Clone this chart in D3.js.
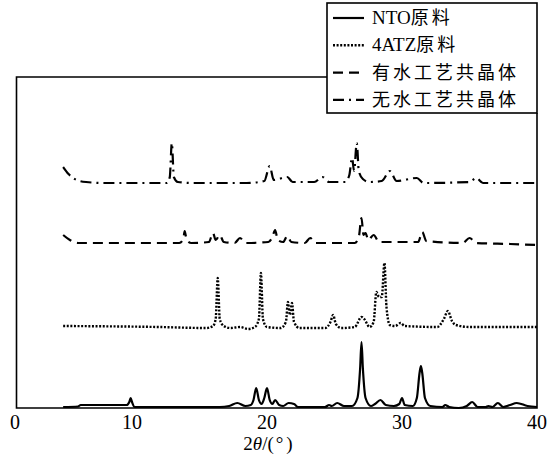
<html>
  <head>
    <meta charset="utf-8">
    <title>XRD</title>
  </head>
<style>
  body { margin:0; background:#fff; }
  text { font-family:"Liberation Serif","Times New Roman",serif; fill:#000; }
  .cjk { font-family:"Noto Sans CJK SC",serif; }
</style>
  <body>
    <script src="https://cdn.jsdelivr.net/npm/d3@7"></script>
    <script>

    var width = 549, height = 457;

    // 2theta / intensity pairs (intensity above each baseline)
    var ntoData = [[4.9,1],[6.0,1.5],[6.2,3],[9.6,3],[9.8,6],[9.9,10],[10.0,6],[10.2,1],[16.5,1],[17.2,2],[17.8,5],[18.4,2],
      [18.8,3],[19.0,8],[19.2,20],[19.4,8],[19.6,4],[19.8,10],[20.0,20],[20.2,8],[20.4,4],[20.6,8],[20.9,3],[21.2,2],[21.6,5],
      [22.0,4],[22.3,1],[24.3,1],[24.6,3],[24.8,2],[25.2,5],[25.7,2],[26.3,2],[26.7,10],[26.9,40],[27.0,66],[27.1,40],[27.3,10],
      [27.7,2],[28.0,4],[28.4,8],[28.8,3],[29.4,2],[29.8,4],[30.0,10],[30.2,3],[30.8,2],[31.1,10],[31.3,35],[31.4,42],[31.5,35],
      [31.7,10],[32.1,2],[33.0,1],[33.2,3],[33.5,1],[34.2,0],[34.8,2],[35.2,6],[35.6,1],[36.2,1],[36.4,2],[36.7,1],[37.1,5],
      [37.5,1],[38.0,3],[38.5,5],[39.3,2],[40,1]];

    var atzData = [[4.9,1],[12,0],[15.5,-1],[16.0,1],[16.2,8],[16.35,49],[16.5,8],[16.8,1],[17.3,-1],[18.0,0],[18.6,-2],[19.1,0],
      [19.4,8],[19.55,54],[19.7,8],[20.0,0],[21.0,-1],[21.4,5],[21.55,25],[21.7,12],[21.85,24],[22.0,5],[22.4,-1],[24.3,-1],
      [24.7,5],[24.9,12],[25.1,3],[25.5,-1],[26.5,0],[27.0,10],[27.2,8],[27.6,0],[27.9,5],[28.1,35],[28.3,30],[28.5,30],
      [28.7,64],[28.85,20],[29.1,2],[29.5,1],[29.9,4],[30.2,1],[32.6,0],[33.1,8],[33.4,16],[33.7,6],[34.0,2],[35,0],[40,0]];

    var wetData = [[4.9,8],[5.4,3],[6.0,0],[13.5,0],[13.8,4],[13.9,12],[14.05,3],[14.4,0],[15.7,1],[16.0,10],[16.2,3],[16.5,8],
      [16.8,1],[17.6,0],[18.0,5],[18.4,0],[20.1,1],[20.4,6],[20.6,13],[20.8,3],[21.2,1],[21.5,7],[21.8,1],[22.8,0],[23.2,5],
      [23.6,0],[26.5,0],[26.8,6],[27.0,25],[27.15,8],[27.3,10],[27.5,3],[27.9,8],[28.3,1],[31.2,1],[31.5,11],[31.8,2],
      [34.5,0],[35.0,5],[35.5,0],[38,-1],[40,-2]];

    var dryData = [[4.9,16],[5.3,9],[5.9,3],[6.6,1],[8,0],[12.6,0],[12.8,6],[12.95,40],[13.1,6],[13.4,1],[14.5,0],[18.5,0],
      [19.8,2],[20.2,17],[20.5,3],[21.5,6],[21.9,1],[23.5,1],[24.1,6],[24.6,1],[25.8,1],[26.1,8],[26.3,25],[26.45,12],
      [26.65,40],[26.8,12],[27.1,4],[27.6,1],[28.5,2],[29.1,12],[29.6,2],[31.1,5],[31.6,0],[35.0,1],[35.5,5],[36,0],[40,0]];

    var seriesLatin = ["NTO","4ATZ","",""];
    var seriesCjk = ["原料","原料","有水工艺共晶体","无水工艺共晶体"];
    var seriesOffsets = [0, 81, 165, 225];
    var xTicks = [0,10,20,30,40];

    var allSeries = [ntoData, atzData, wetData, dryData];
    var dashes = [null, "2,1.6", "10,6", "11,5,2,5"];
    var widths = [2.2, 2.4, 2.2, 2.2];

    var svg = d3.select("body").append("svg")
        .attr("width", width).attr("height", height);

    var x = d3.scaleLinear().domain([0,40]).range([-3,537]);
    var y = d3.scaleLinear().domain([0,331]).range([408,77]);

    var line = d3.line().curve(d3.curveMonotoneX);

    // traces
    allSeries.forEach(function(data, i){
      svg.append("path")
        .attr("d", line(data.map(function(d){ return [x(d[0]), y(d[1] + seriesOffsets[i])]; })))
        .attr("fill","none").attr("stroke","#000")
        .attr("stroke-width", widths[i])
        .attr("stroke-dasharray", dashes[i]);
    });

    // frame (top is broken by the legend box)
    svg.append("path")
      .attr("d","M327,77H16.5V408H537V113")
      .attr("fill","none").attr("stroke","#000").attr("stroke-width",1.6);

    // x tick labels, no tick marks
    svg.selectAll(".xt").data(xTicks).enter().append("text")
      .attr("class","xt")
      .attr("x", function(d){ return Math.max(x(d), 15); })
      .attr("y", 429)
      .attr("text-anchor","middle")
      .attr("font-size", 20)
      .text(function(d){ return d; });

    var title = svg.append("text").attr("x",268).attr("y",450)
      .attr("text-anchor","middle").attr("font-size",19);
    title.append("tspan").text("2");
    title.append("tspan").attr("font-style","italic").text("θ");
    title.append("tspan").text("/(");
    title.append("tspan").attr("dx",2).text("°");
    title.append("tspan").attr("dx",3).text(")");

    // legend
    var lg = svg.append("g");
    lg.append("rect").attr("x",327).attr("y",3).attr("width",210).attr("height",110)
      .attr("fill","#fff").attr("stroke","#000").attr("stroke-width",1.6);
    seriesCjk.forEach(function(name, i){
      var ly = 18 + i*27.3;
      lg.append("line").attr("x1",333).attr("x2",364).attr("y1",ly).attr("y2",ly)
        .attr("stroke","#000").attr("stroke-width",widths[i])
        .attr("stroke-dasharray",dashes[i]);
      var t = lg.append("text").attr("x",372).attr("y",ly+6).attr("font-size",19);
      if (seriesLatin[i]) t.append("tspan").text(seriesLatin[i]);
      t.append("tspan").attr("class","cjk").attr("font-size",18)
        .attr("letter-spacing",3).text(name);
    });

    </script>
  </body>
</html>
